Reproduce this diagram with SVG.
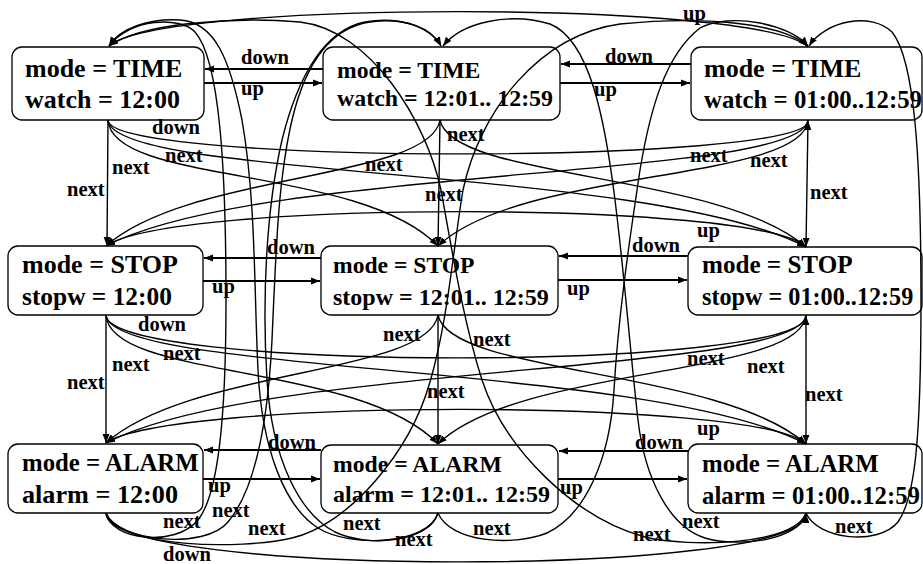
<svg xmlns="http://www.w3.org/2000/svg" width="923" height="564" viewBox="0 0 923 564">
<defs>
<marker id="ah" viewBox="0 0 10 10" refX="10" refY="5" markerWidth="9" markerHeight="9" markerUnits="userSpaceOnUse" orient="auto"><path d="M0,1.2 L10,5 L0,8.8 z" fill="#000"/></marker>
<style>
.box{fill:none;stroke:#000;stroke-width:1.3}
.t{font-family:"Liberation Serif","Times New Roman",serif;font-weight:bold;fill:#000}
.l{font-family:"Liberation Serif","Times New Roman",serif;font-weight:bold;font-size:20.5px;fill:#000}
.e{fill:none;stroke:#000;stroke-width:1.4;marker-end:url(#ah)}
.h{fill:none;stroke:#000;stroke-width:1.8;marker-end:url(#ah)}
</style>
</defs>
<rect width="923" height="564" fill="#fff"/>
<g id="edges">
<path class="h" d="M323,69 L205,69"/>
<path class="h" d="M204,83 L322,83"/>
<path class="h" d="M691,64 L561,64"/>
<path class="h" d="M560,83 L690,83"/>
<path class="h" d="M321,258 L204,258"/>
<path class="h" d="M203,281 L320,281"/>
<path class="h" d="M688,256 L559,256"/>
<path class="h" d="M558,280 L687,280"/>
<path class="h" d="M321,450 L204,450"/>
<path class="h" d="M203,479 L320,479"/>
<path class="h" d="M688,451 L559,451"/>
<path class="h" d="M558,479 L687,479"/>
<path class="e" d="M808,47 C760,0 160,0 109,46"/>
<path class="e" d="M108,120 C108,165 808,165 808,121"/>
<path class="e" d="M806,247 C760,200 170,200 106,246"/>
<path class="e" d="M106,315 C106,372 806,372 806,316"/>
<path class="e" d="M806,444 C760,398 170,398 106,443"/>
<path class="e" d="M106,513 C106,578 806,578 806,514"/>
<path class="e" d="M108,120 L107,246"/>
<path class="e" d="M108,120 C112,185 360,165 438,246"/>
<path class="e" d="M108,120 C112,180 650,165 806,247"/>
<path class="e" d="M440,120 C430,180 190,172 106,246"/>
<path class="e" d="M440,120 L438,246"/>
<path class="e" d="M440,120 C452,180 720,172 806,247"/>
<path class="e" d="M808,120 C804,180 260,165 106,246"/>
<path class="e" d="M808,120 C804,182 520,168 438,246"/>
<path class="e" d="M808,120 L806,247"/>
<path class="e" d="M106,315 L106,443"/>
<path class="e" d="M106,315 C110,380 360,362 438,444"/>
<path class="e" d="M106,315 C110,375 650,362 806,444"/>
<path class="e" d="M438,315 C428,375 190,368 106,443"/>
<path class="e" d="M438,315 L438,444"/>
<path class="e" d="M438,315 C450,375 720,368 806,444"/>
<path class="e" d="M806,315 C802,375 260,362 106,443"/>
<path class="e" d="M806,315 C802,377 520,365 438,444"/>
<path class="e" d="M806,315 L806,444"/>
<path class="e" d="M106,513 C110,540 175,548 198,520 C218,495 226,420 226,300 C226,170 220,60 195,32 C180,16 130,18 109,46"/>
<path class="e" d="M438,513 C428,545 350,548 318,528 C285,507 262,450 258,370 C254,290 256,200 242,120 C230,60 215,22 180,20 C150,18 120,28 109,46"/>
<path class="e" d="M806,513 C795,545 690,548 645,537 C575,518 505,450 482,380 C463,320 452,250 441,190 C426,120 370,30 300,22 C230,16 140,24 109,46"/>
<path class="e" d="M106,513 C118,542 205,550 228,522 C255,490 268,420 272,340 C276,250 278,180 292,120 C305,65 330,28 370,22 C405,17 432,28 441,46"/>
<path class="e" d="M438,513 C430,542 368,548 335,532 C300,514 272,460 267,380 C262,300 266,210 282,140 C298,75 325,30 365,22 C400,16 430,27 441,46"/>
<path class="e" d="M806,513 C800,540 740,548 705,538 C670,527 645,480 638,420 C630,350 625,280 615,200 C605,120 590,40 550,24 C510,12 462,22 443,46"/>
<path class="e" d="M106,513 C118,548 240,550 292,538 C350,524 410,452 430,382 C448,320 453,250 463,190 C480,110 540,35 620,24 C700,16 780,22 808,46"/>
<path class="e" d="M438,513 C450,542 512,547 547,533 C585,515 610,460 614,390 C618,320 628,250 640,170 C650,110 665,55 700,28 C730,12 790,24 808,46"/>
<path class="e" d="M806,513 C818,540 878,546 898,522 C915,498 921,440 921,300 C921,160 915,60 892,32 C872,12 826,20 809,46"/>
</g>
<g id="labels">
<text class="l" x="241" y="64">down</text>
<text class="l" x="241" y="95">up</text>
<text class="l" x="605" y="63">down</text>
<text class="l" x="594" y="96">up</text>
<text class="l" x="683" y="20">up</text>
<text class="l" x="152" y="134">down</text>
<text class="l" x="165" y="162">next</text>
<text class="l" x="112" y="174">next</text>
<text class="l" x="67" y="196">next</text>
<text class="l" x="365" y="171">next</text>
<text class="l" x="447" y="141">next</text>
<text class="l" x="425" y="201">next</text>
<text class="l" x="690" y="162">next</text>
<text class="l" x="750" y="167">next</text>
<text class="l" x="810" y="199">next</text>
<text class="l" x="267" y="254">down</text>
<text class="l" x="212" y="293">up</text>
<text class="l" x="632" y="252">down</text>
<text class="l" x="567" y="295">up</text>
<text class="l" x="697" y="237">up</text>
<text class="l" x="138" y="331">down</text>
<text class="l" x="163" y="360">next</text>
<text class="l" x="112" y="371">next</text>
<text class="l" x="67" y="389">next</text>
<text class="l" x="383" y="341">next</text>
<text class="l" x="473" y="346">next</text>
<text class="l" x="427" y="398">next</text>
<text class="l" x="687" y="365">next</text>
<text class="l" x="747" y="373">next</text>
<text class="l" x="805" y="401">next</text>
<text class="l" x="268" y="449">down</text>
<text class="l" x="208" y="492">up</text>
<text class="l" x="635" y="449">down</text>
<text class="l" x="560" y="494">up</text>
<text class="l" x="697" y="435">up</text>
<text class="l" x="163" y="528">next</text>
<text class="l" x="212" y="517">next</text>
<text class="l" x="248" y="535">next</text>
<text class="l" x="163" y="561">down</text>
<text class="l" x="343" y="530">next</text>
<text class="l" x="395" y="546">next</text>
<text class="l" x="473" y="535">next</text>
<text class="l" x="682" y="528">next</text>
<text class="l" x="633" y="541">next</text>
<text class="l" x="835" y="533">next</text>
</g>
<g id="n-time-1200">
<rect class="box" x="12" y="47" width="192" height="73" rx="10"/>
<text class="t" x="25" y="77" font-size="26">mode = TIME</text>
<text class="t" x="25" y="108" font-size="26">watch = 12:00</text>
</g>
<g id="n-time-1201">
<rect class="box" x="323" y="47" width="237" height="73" rx="10"/>
<text class="t" x="337" y="78" font-size="23.7">mode = TIME</text>
<text class="t" x="337" y="106" font-size="23.9">watch = 12:01.. 12:59</text>
</g>
<g id="n-time-0100">
<rect class="box" x="691" y="47" width="231" height="73" rx="10"/>
<text class="t" x="704" y="77" font-size="26">mode = TIME</text>
<text class="t" x="704" y="108" font-size="24.8">watch = 01:00..12:59</text>
</g>
<g id="n-stop-1200">
<rect class="box" x="8" y="246" width="195" height="69" rx="10"/>
<text class="t" x="22" y="273" font-size="26">mode = STOP</text>
<text class="t" x="22" y="305" font-size="25.4">stopw = 12:00</text>
</g>
<g id="n-stop-1201">
<rect class="box" x="321" y="246" width="237" height="69" rx="10"/>
<text class="t" x="333" y="273" font-size="23.6">mode = STOP</text>
<text class="t" x="333" y="305" font-size="24">stopw = 12:01.. 12:59</text>
</g>
<g id="n-stop-0100">
<rect class="box" x="688" y="247" width="234" height="68" rx="10"/>
<text class="t" x="702" y="273" font-size="25.1">mode = STOP</text>
<text class="t" x="702" y="305" font-size="24.2">stopw = 01:00..12:59</text>
</g>
<g id="n-alarm-1200">
<rect class="box" x="8" y="444" width="195" height="69" rx="10"/>
<text class="t" x="22" y="471" font-size="24.8">mode = ALARM</text>
<text class="t" x="22" y="503" font-size="26.2">alarm = 12:00</text>
</g>
<g id="n-alarm-1201">
<rect class="box" x="321" y="445" width="237" height="68" rx="10"/>
<text class="t" x="333" y="472" font-size="23.7">mode = ALARM</text>
<text class="t" x="333" y="502" font-size="24">alarm = 12:01.. 12:59</text>
</g>
<g id="n-alarm-0100">
<rect class="box" x="688" y="444" width="234" height="69" rx="10"/>
<text class="t" x="702" y="472" font-size="24.8">mode = ALARM</text>
<text class="t" x="702" y="504" font-size="24.8">alarm = 01:00..12:59</text>
</g>
</svg>
